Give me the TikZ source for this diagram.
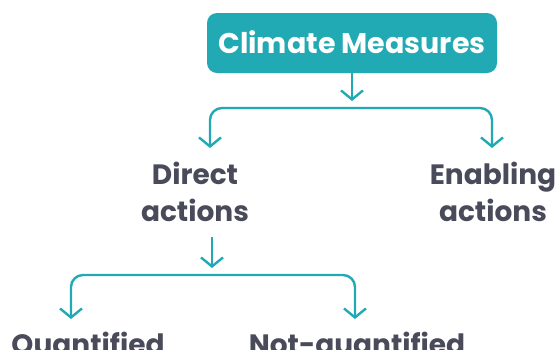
\documentclass[tikz,border=0pt]{standalone}
\usepackage{fontspec}
\newfontfamily\diagfont{Poppins}
\usepackage{tikz}
\usetikzlibrary{positioning}
\usetikzlibrary{shapes, arrows.meta}

\definecolor{teal1}{RGB}{34,170,180}
\definecolor{ink}{RGB}{74,75,90}

\begin{document}
\begin{tikzpicture}[x=1pt, y=-1pt]
    \tikzstyle{rblock}=[fill=teal1, rounded corners=10pt, minimum width=290pt,
    minimum height=60pt, text=white, font=\diagfont\bfseries\fontsize{28.5}{34}\selectfont,
    text height=20pt, text depth=0pt];
    \tikzstyle{label}=[text=ink, align=center, inner sep=0pt,
    font=\diagfont\bfseries\fontsize{28}{37}\selectfont];
    \tikzstyle{line}=[draw=teal1, line width=2.4pt, -{Straight Barb[length=9pt,width=22pt]}];
    \tikzstyle{fork}=[draw=teal1, line width=2.4pt, rounded corners=12pt,
    {Straight Barb[length=9pt,width=22pt]}-{Straight Barb[length=9pt,width=22pt]}];
    \useasboundingbox (0,0) rectangle (560,349);
    % boxes and labels
    \node [rblock] (climate) at (352,43) {Climate Measures};
    \node [label] (direct) at (195,192) {Direct\\actions};
    \node [label] (enabling) at (493,192) {Enabling\\actions};
    \node [label, anchor=base] (quant) at (88,354) {Quantified};
    \node [label, anchor=base] (notquant) at (357,354) {Not-quantified};
    % arrow tips and forks
    \coordinate (c1) at (352,101);
    \coordinate (b1) at (352,108);
    \coordinate (d1) at (210,148);
    \coordinate (e1) at (492,148);
    \coordinate (s2) at (212,237);
    \coordinate (c2) at (212,268);
    \coordinate (b2) at (212,275);
    \coordinate (q1) at (71,319);
    \coordinate (n1) at (355,319);
    \draw[line] (climate.south) -- (c1);
    \draw[fork] (d1) -- (d1 |- b1) -- (e1 |- b1) -- (e1);
    \draw[line] (s2) -- (c2);
    \draw[fork] (q1) -- (q1 |- b2) -- (n1 |- b2) -- (n1);
\end{tikzpicture}
\end{document}
